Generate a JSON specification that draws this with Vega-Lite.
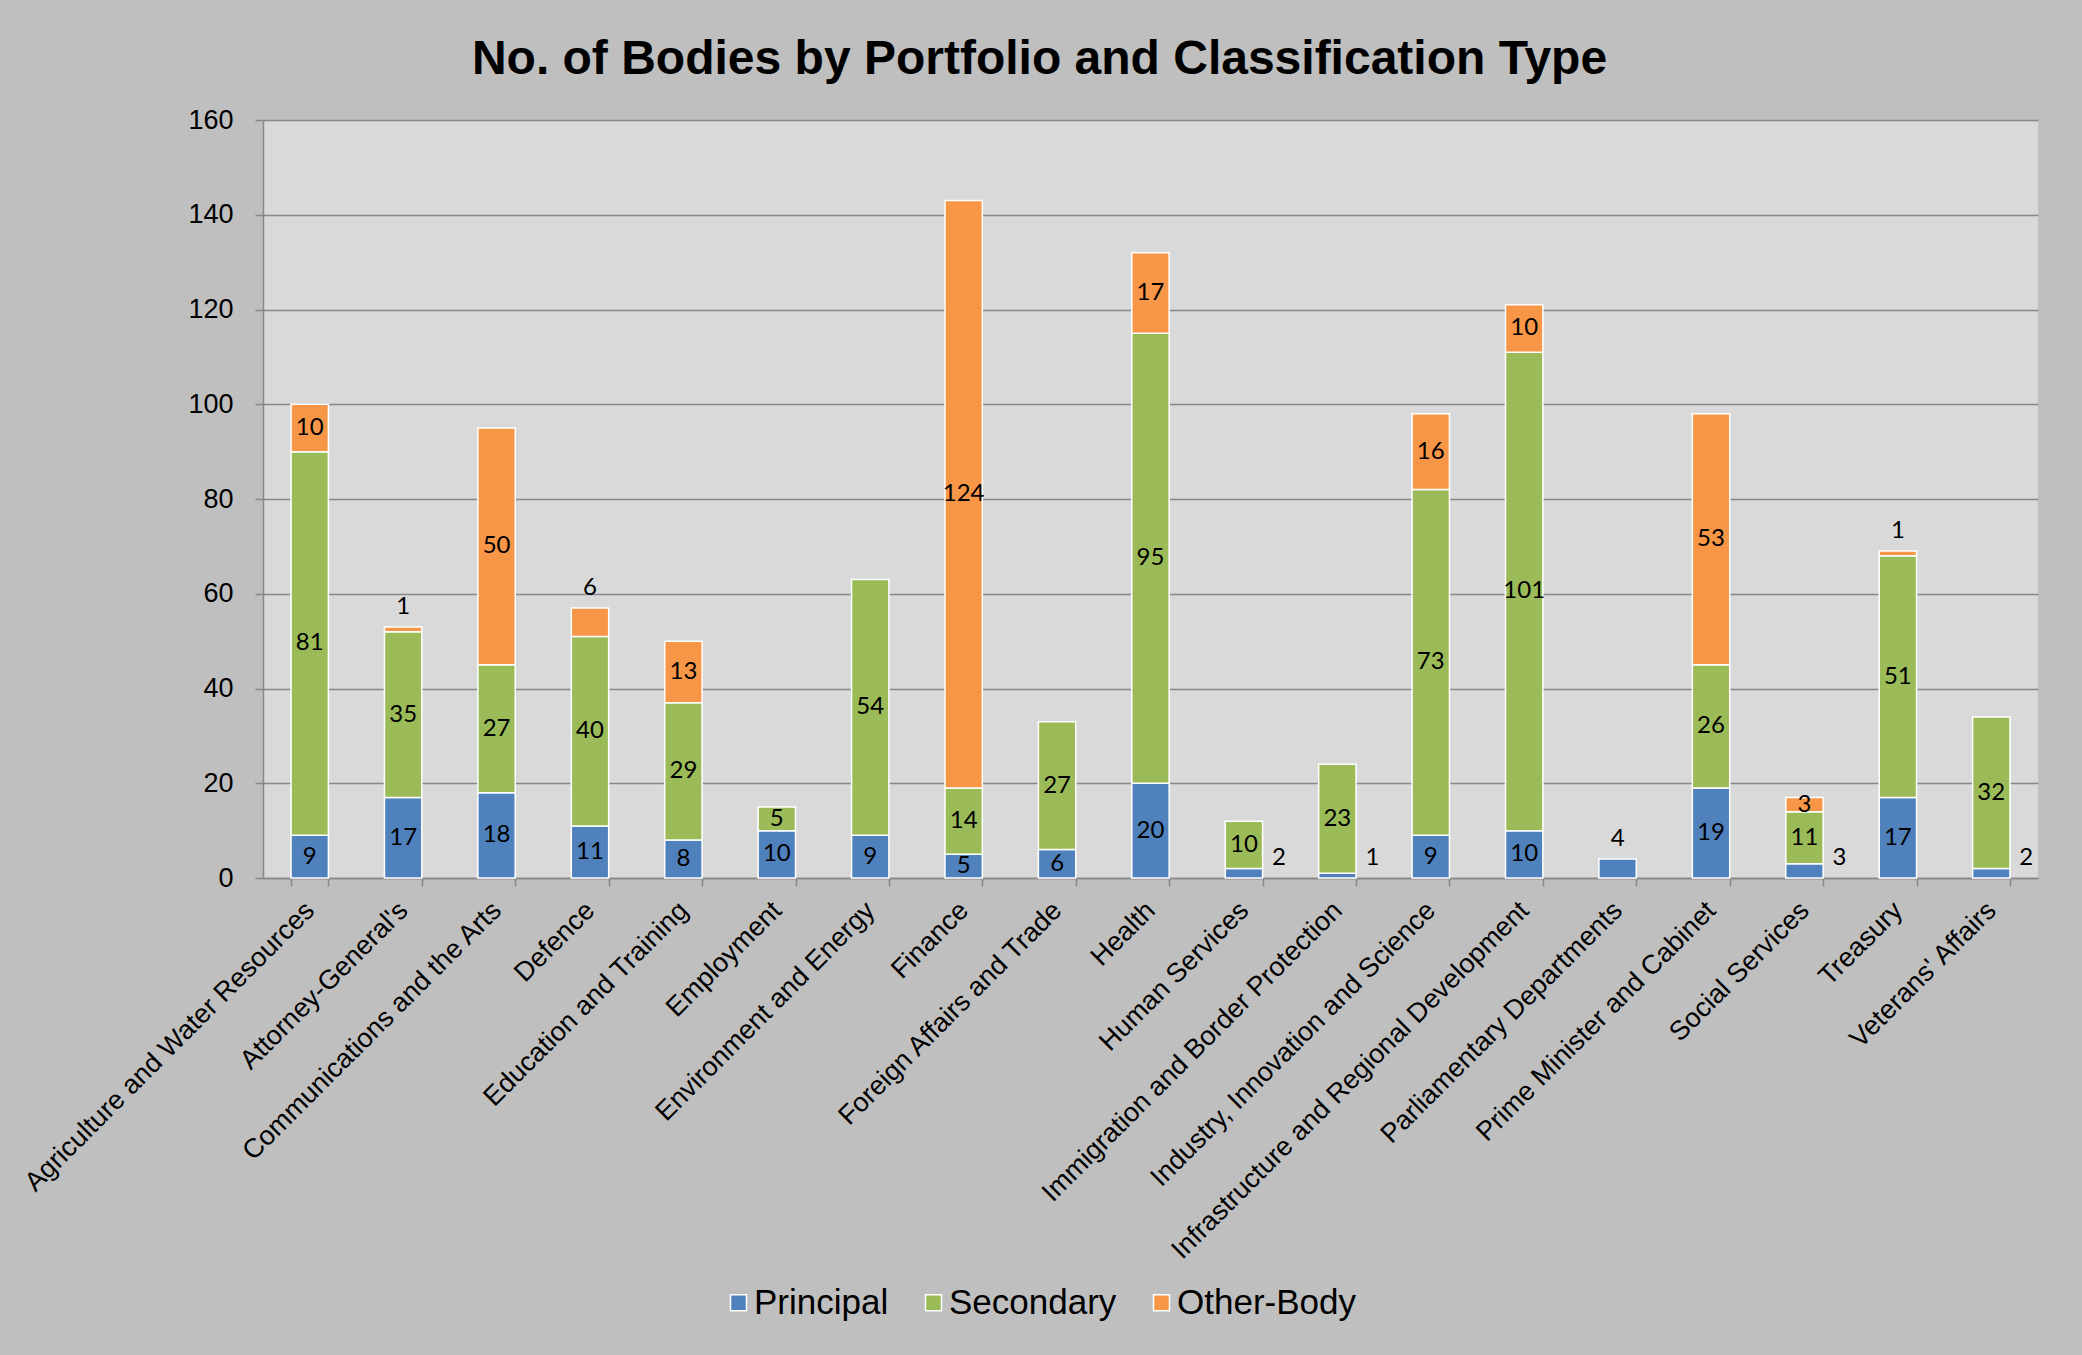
{
  "$schema": "https://vega.github.io/schema/vega-lite/v6.json",
  "width": 1775,
  "height": 758,
  "autosize": {"type": "none"},
  "padding": {"left": 263, "top": 120, "right": 44, "bottom": 477},
  "background": "#bfbfbf",
  "title": {
    "text": "No. of Bodies by Portfolio and Classification Type",
    "font": "Liberation Sans",
    "fontSize": 48,
    "fontWeight": "bold",
    "color": "#000000",
    "anchor": "middle",
    "frame": "group",
    "dx": -111,
    "offset": 22
  },
  "config": {
    "view": {"fill": "#d9d9d9", "stroke": null},
    "axis": {"labelColor": "#000000", "labelFont": "Liberation Sans"}
  },
  "data": {
    "values": [
      {"portfolio": "Agriculture and Water Resources", "type": "Principal", "value": 9},
      {"portfolio": "Agriculture and Water Resources", "type": "Secondary", "value": 81},
      {"portfolio": "Agriculture and Water Resources", "type": "Other-Body", "value": 10},
      {"portfolio": "Attorney-General's", "type": "Principal", "value": 17},
      {"portfolio": "Attorney-General's", "type": "Secondary", "value": 35},
      {"portfolio": "Attorney-General's", "type": "Other-Body", "value": 1},
      {"portfolio": "Communications and the Arts", "type": "Principal", "value": 18},
      {"portfolio": "Communications and the Arts", "type": "Secondary", "value": 27},
      {"portfolio": "Communications and the Arts", "type": "Other-Body", "value": 50},
      {"portfolio": "Defence", "type": "Principal", "value": 11},
      {"portfolio": "Defence", "type": "Secondary", "value": 40},
      {"portfolio": "Defence", "type": "Other-Body", "value": 6},
      {"portfolio": "Education and Training", "type": "Principal", "value": 8},
      {"portfolio": "Education and Training", "type": "Secondary", "value": 29},
      {"portfolio": "Education and Training", "type": "Other-Body", "value": 13},
      {"portfolio": "Employment", "type": "Principal", "value": 10},
      {"portfolio": "Employment", "type": "Secondary", "value": 5},
      {"portfolio": "Environment and Energy", "type": "Principal", "value": 9},
      {"portfolio": "Environment and Energy", "type": "Secondary", "value": 54},
      {"portfolio": "Finance", "type": "Principal", "value": 5},
      {"portfolio": "Finance", "type": "Secondary", "value": 14},
      {"portfolio": "Finance", "type": "Other-Body", "value": 124},
      {"portfolio": "Foreign Affairs and Trade", "type": "Principal", "value": 6},
      {"portfolio": "Foreign Affairs and Trade", "type": "Secondary", "value": 27},
      {"portfolio": "Health", "type": "Principal", "value": 20},
      {"portfolio": "Health", "type": "Secondary", "value": 95},
      {"portfolio": "Health", "type": "Other-Body", "value": 17},
      {"portfolio": "Human Services", "type": "Principal", "value": 2},
      {"portfolio": "Human Services", "type": "Secondary", "value": 10},
      {"portfolio": "Immigration and Border Protection", "type": "Principal", "value": 1},
      {"portfolio": "Immigration and Border Protection", "type": "Secondary", "value": 23},
      {"portfolio": "Industry, Innovation and Science", "type": "Principal", "value": 9},
      {"portfolio": "Industry, Innovation and Science", "type": "Secondary", "value": 73},
      {"portfolio": "Industry, Innovation and Science", "type": "Other-Body", "value": 16},
      {"portfolio": "Infrastructure and Regional Development", "type": "Principal", "value": 10},
      {"portfolio": "Infrastructure and Regional Development", "type": "Secondary", "value": 101},
      {"portfolio": "Infrastructure and Regional Development", "type": "Other-Body", "value": 10},
      {"portfolio": "Parliamentary Departments", "type": "Principal", "value": 4},
      {"portfolio": "Prime Minister and Cabinet", "type": "Principal", "value": 19},
      {"portfolio": "Prime Minister and Cabinet", "type": "Secondary", "value": 26},
      {"portfolio": "Prime Minister and Cabinet", "type": "Other-Body", "value": 53},
      {"portfolio": "Social Services", "type": "Principal", "value": 3},
      {"portfolio": "Social Services", "type": "Secondary", "value": 11},
      {"portfolio": "Social Services", "type": "Other-Body", "value": 3},
      {"portfolio": "Treasury", "type": "Principal", "value": 17},
      {"portfolio": "Treasury", "type": "Secondary", "value": 51},
      {"portfolio": "Treasury", "type": "Other-Body", "value": 1},
      {"portfolio": "Veterans' Affairs", "type": "Principal", "value": 2},
      {"portfolio": "Veterans' Affairs", "type": "Secondary", "value": 32}
    ]
  },
  "transform": [
    {"calculate": "indexof(['Principal','Secondary','Other-Body'], datum.type)", "as": "ord"},
    {"stack": "value", "groupby": ["portfolio"], "sort": [{"field": "ord", "order": "ascending"}], "as": ["v0", "v1"]},
    {"calculate": "(datum.v0 + datum.v1) / 2", "as": "mid"}
  ],
  "encoding": {
    "x": {
      "field": "portfolio",
      "type": "nominal",
      "title": null,
      "scale": {
        "domain": ["Agriculture and Water Resources", "Attorney-General's", "Communications and the Arts", "Defence", "Education and Training", "Employment", "Environment and Energy", "Finance", "Foreign Affairs and Trade", "Health", "Human Services", "Immigration and Border Protection", "Industry, Innovation and Science", "Infrastructure and Regional Development", "Parliamentary Departments", "Prime Minister and Cabinet", "Social Services", "Treasury", "Veterans' Affairs"],
        "paddingInner": 0.6,
        "paddingOuter": 0.3
      },
      "axis": {
        "labelAngle": -45,
        "labelAlign": "right",
        "labelBaseline": "middle",
        "labelFontSize": 27,
        "labelPadding": 20,
        "labelLimit": 0,
        "tickBand": "extent",
        "tickSize": 8,
        "tickColor": "#878787",
        "tickWidth": 1.5,
        "domainColor": "#878787",
        "domainWidth": 1.5
      }
    }
  },
  "layer": [
    {
      "mark": {"type": "bar", "stroke": "#ffffff", "strokeWidth": 1.5},
      "encoding": {
        "y": {
          "field": "v1",
          "type": "quantitative",
          "title": null,
          "scale": {"domain": [0, 160], "nice": false},
          "axis": {
            "values": [0, 20, 40, 60, 80, 100, 120, 140, 160],
            "grid": true,
            "gridColor": "#878787",
            "gridWidth": 1.5,
            "tickSize": 8,
            "tickColor": "#878787",
            "tickWidth": 1.5,
            "domainColor": "#878787",
            "domainWidth": 1.5,
            "labelFontSize": 27,
            "labelPadding": 22
          }
        },
        "y2": {"field": "v0"},
        "color": {
          "field": "type",
          "type": "nominal",
          "scale": {"domain": ["Principal", "Secondary", "Other-Body"], "range": ["#4f81bd", "#9bbb59", "#f79646"]},
          "legend": {
            "orient": "none",
            "legendX": 458,
            "legendY": 1165,
            "direction": "horizontal",
            "title": null,
            "labelFont": "Liberation Sans",
            "labelFontSize": 35,
            "labelColor": "#000000",
            "labelLimit": 0,
            "symbolType": "square",
            "symbolSize": 256,
            "symbolStrokeColor": "#ffffff",
            "symbolStrokeWidth": 1.5,
            "symbolOpacity": 1,
            "labelOffset": -2,
            "columnPadding": 27
          }
        }
      }
    },
    {
      "transform": [
        {"filter": "!((datum.type === 'Other-Body' && (datum.value === 1 || datum.value === 6)) || (datum.type === 'Principal' && datum.value <= 4))"}
      ],
      "mark": {"type": "text", "font": "Lato", "fontSize": 24, "color": "#000000", "baseline": "middle", "align": "center"},
      "encoding": {
        "y": {"field": "mid", "type": "quantitative", "title": null},
        "text": {"field": "value", "type": "quantitative"}
      }
    },
    {
      "transform": [
        {"filter": "(datum.type === 'Other-Body' && (datum.value === 1 || datum.value === 6)) || (datum.type === 'Principal' && datum.value === 4)"}
      ],
      "mark": {"type": "text", "font": "Lato", "fontSize": 24, "color": "#000000", "baseline": "middle", "align": "center", "dy": -20},
      "encoding": {
        "y": {"field": "v1", "type": "quantitative", "title": null},
        "text": {"field": "value", "type": "quantitative"}
      }
    },
    {
      "transform": [
        {"filter": "datum.type === 'Principal' && datum.value <= 3"}
      ],
      "mark": {"type": "text", "font": "Lato", "fontSize": 24, "color": "#000000", "baseline": "middle", "align": "center", "dy": -20, "dx": 35},
      "encoding": {
        "y": {"field": "v0", "type": "quantitative", "title": null},
        "text": {"field": "value", "type": "quantitative"}
      }
    }
  ]
}
